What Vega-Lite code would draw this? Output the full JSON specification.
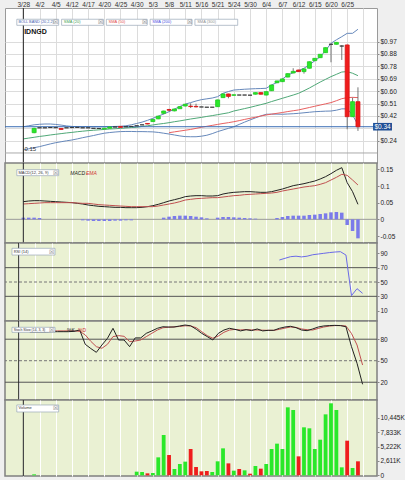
{
"$schema":"https://vega.github.io/schema/vega-lite/v6.json",
"background":"#efefef",
"padding":{"left":3,"top":0,"right":0,"bottom":0},
"spacing":0,
"bounds":"flush",
"config":{"axis":{"labelFont":"Liberation Sans","labelFontSize":6.5,"labelColor":"#222"},"text":{"font":"Liberation Sans"}},
"data":{"name":"d"},
"datasets":{"d":[
{"i":0,"ub":0.338,"lb":0.166,"m":0.248,"macd":0.053,"sig":0.046,"hist":0.005},
{"i":1,"ub":0.345,"lb":0.175,"m":0.254,"macd":0.055,"sig":0.047,"hist":0.005},
{"i":2,"o":0.294,"h":0.33,"l":0.29,"c":0.326,"dir":"up","ub":0.352,"lb":0.183,"m":0.26,"macd":0.056,"sig":0.048,"hist":0.005,"k":90,"dd":91.6,"vol":181,"vd":"up"},
{"i":3,"o":0.33,"h":0.33,"l":0.33,"c":0.33,"dir":"flat","ub":0.356,"lb":0.191,"m":0.266,"macd":0.056,"sig":0.049,"hist":0.004,"k":90,"dd":91.6},
{"i":4,"o":0.33,"h":0.33,"l":0.33,"c":0.33,"dir":"flat","ub":0.358,"lb":0.201,"m":0.271,"macd":0.055,"sig":0.05,"k":90,"dd":91.6},
{"i":5,"o":0.332,"h":0.332,"l":0.332,"c":0.332,"dir":"flat","ub":0.358,"lb":0.211,"m":0.277,"macd":0.054,"sig":0.05,"k":90,"dd":91.6},
{"i":6,"o":0.331,"h":0.331,"l":0.331,"c":0.331,"dir":"flat","ub":0.355,"lb":0.22,"m":0.282,"macd":0.053,"sig":0.05,"k":90.5,"dd":91.6},
{"i":7,"o":0.325,"h":0.327,"l":0.316,"c":0.318,"dir":"down","ub":0.35,"lb":0.227,"m":0.287,"macd":0.052,"sig":0.05,"k":90.5,"dd":91.6},
{"i":8,"o":0.33,"h":0.33,"l":0.33,"c":0.33,"dir":"flat","ub":0.344,"lb":0.234,"m":0.292,"macd":0.051,"sig":0.05,"k":90.5,"dd":91.6},
{"i":9,"o":0.332,"h":0.338,"l":0.327,"c":0.332,"dir":"flat","ub":0.34,"lb":0.24,"m":0.296,"macd":0.05,"sig":0.05,"k":90.5,"dd":91.6},
{"i":10,"o":0.333,"h":0.333,"l":0.333,"c":0.333,"dir":"flat","ub":0.338,"lb":0.248,"m":0.301,"macd":0.048,"sig":0.049,"k":91,"dd":91.6},
{"i":11,"o":0.33,"h":0.33,"l":0.33,"c":0.33,"dir":"flat","ub":0.338,"lb":0.257,"m":0.305,"macd":0.046,"sig":0.048,"hist":-0.003,"k":92.8,"dd":91},
{"i":12,"o":0.33,"h":0.33,"l":0.33,"c":0.33,"dir":"flat","ub":0.338,"lb":0.265,"m":0.309,"macd":0.043,"sig":0.048,"hist":-0.004,"k":72.9,"dd":86},
{"i":13,"o":0.326,"h":0.326,"l":0.326,"c":0.326,"dir":"flat","ub":0.338,"lb":0.273,"m":0.312,"macd":0.041,"sig":0.046,"hist":-0.005,"k":67,"dd":77},
{"i":14,"o":0.325,"h":0.325,"l":0.325,"c":0.325,"dir":"flat","ub":0.338,"lb":0.282,"m":0.315,"macd":0.039,"sig":0.044,"hist":-0.005,"k":61.7,"dd":69.6},
{"i":15,"o":0.321,"h":0.328,"l":0.32,"c":0.327,"dir":"up","ub":0.338,"lb":0.29,"m":0.318,"macd":0.038,"sig":0.043,"hist":-0.005,"k":71.9,"dd":67.3},
{"i":16,"o":0.327,"h":0.337,"l":0.326,"c":0.336,"dir":"up","ub":0.339,"lb":0.295,"m":0.321,"macd":0.037,"sig":0.042,"hist":-0.005,"k":81.2,"dd":72.9},
{"i":17,"o":0.336,"h":0.336,"l":0.336,"c":0.336,"dir":"flat","ub":0.34,"lb":0.299,"m":0.323,"macd":0.036,"sig":0.041,"hist":-0.004,"k":95.2,"dd":83.6},
{"i":18,"o":0.34,"h":0.341,"l":0.332,"c":0.333,"dir":"down","ub":0.341,"lb":0.302,"m":0.326,"macd":0.036,"sig":0.04,"hist":-0.004,"k":78.9,"dd":85},
{"i":19,"o":0.338,"h":0.338,"l":0.338,"c":0.338,"dir":"flat","ub":0.345,"lb":0.303,"m":0.329,"macd":0.035,"sig":0.039,"hist":-0.003,"k":78.9,"dd":84},
{"i":20,"o":0.34,"h":0.34,"l":0.34,"c":0.34,"dir":"flat","ub":0.352,"lb":0.303,"m":0.332,"macd":0.035,"sig":0.038,"hist":-0.003,"k":69.6,"dd":76.7},
{"i":21,"o":0.345,"h":0.345,"l":0.345,"c":0.345,"dir":"flat","ub":0.362,"lb":0.302,"m":0.334,"macd":0.035,"sig":0.038,"k":81.8,"dd":77.5,"vol":664,"vd":"up"},
{"i":22,"o":0.352,"h":0.352,"l":0.352,"c":0.352,"dir":"flat","ub":0.372,"lb":0.302,"m":0.34,"macd":0.036,"sig":0.038,"k":81.8,"dd":78.9,"vol":600,"vd":"up"},
{"i":23,"o":0.362,"h":0.363,"l":0.356,"c":0.358,"dir":"down","ub":0.385,"lb":0.301,"m":0.345,"macd":0.038,"sig":0.038,"k":88.2,"dd":83.6,"vol":360,"vd":"down"},
{"i":24,"o":0.376,"h":0.394,"l":0.374,"c":0.392,"dir":"up","ub":0.4,"lb":0.3,"m":0.351,"macd":0.041,"sig":0.038,"k":91.6,"dd":88.2,"vol":420,"vd":"up"},
{"i":25,"o":0.396,"h":0.418,"l":0.394,"c":0.416,"dir":"up","ub":0.416,"lb":0.296,"m":0.357,"macd":0.045,"sig":0.04,"k":95.2,"dd":92.8,"vol":3260,"vd":"up"},
{"i":26,"o":0.437,"h":0.456,"l":0.43,"c":0.454,"dir":"up","ub":0.432,"lb":0.29,"m":0.362,"macd":0.05,"sig":0.043,"hist":0.005,"k":97.4,"dd":96,"vol":7310,"vd":"up"},
{"i":27,"o":0.465,"h":0.47,"l":0.452,"c":0.46,"dir":"down","ub":0.449,"lb":0.284,"m":0.368,"s50":0.294,"macd":0.055,"sig":0.046,"hist":0.008,"k":97,"dd":96.7,"vol":3680,"vd":"down"},
{"i":28,"o":0.455,"h":0.47,"l":0.452,"c":0.469,"dir":"up","ub":0.468,"lb":0.277,"m":0.375,"s50":0.3,"macd":0.059,"sig":0.049,"hist":0.01,"k":97,"dd":97.2,"vol":1150,"vd":"up"},
{"i":29,"o":0.471,"h":0.487,"l":0.469,"c":0.486,"dir":"up","ub":0.487,"lb":0.27,"m":0.381,"s50":0.306,"macd":0.063,"sig":0.053,"hist":0.011,"k":98.4,"dd":97.8,"vol":2050,"vd":"up"},
{"i":30,"o":0.491,"h":0.506,"l":0.489,"c":0.504,"dir":"up","ub":0.505,"lb":0.265,"m":0.388,"s50":0.312,"macd":0.068,"sig":0.058,"hist":0.011,"k":99.8,"dd":98.7,"vol":2480,"vd":"up"},
{"i":31,"o":0.49,"h":0.511,"l":0.476,"c":0.487,"dir":"down","ub":0.516,"lb":0.264,"m":0.395,"s50":0.318,"macd":0.07,"sig":0.06,"hist":0.01,"k":98.7,"dd":98.5,"vol":4770,"vd":"down"},
{"i":32,"o":0.488,"h":0.508,"l":0.48,"c":0.485,"dir":"down","ub":0.528,"lb":0.264,"m":0.401,"s50":0.326,"macd":0.071,"sig":0.062,"hist":0.008,"k":94,"dd":96.1,"vol":1510,"vd":"down"},
{"i":33,"o":0.484,"h":0.484,"l":0.484,"c":0.484,"dir":"flat","ub":0.538,"lb":0.268,"m":0.407,"s50":0.334,"macd":0.071,"sig":0.063,"hist":0.006,"k":88.2,"dd":90.5,"vol":725,"vd":"down"},
{"i":34,"o":0.482,"h":0.482,"l":0.482,"c":0.482,"dir":"flat","ub":0.544,"lb":0.275,"m":0.414,"s50":0.341,"macd":0.07,"sig":0.064,"hist":0.003,"k":83.6,"dd":85,"vol":785,"vd":"down"},
{"i":35,"o":0.482,"h":0.482,"l":0.482,"c":0.482,"dir":"flat","ub":0.55,"lb":0.287,"m":0.42,"s50":0.348,"macd":0.07,"sig":0.065,"k":78.9,"dd":81.3,"vol":600,"vd":"up"},
{"i":36,"o":0.486,"h":0.538,"l":0.484,"c":0.536,"dir":"up","ub":0.56,"lb":0.302,"m":0.427,"s50":0.355,"macd":0.071,"sig":0.065,"hist":0.005,"k":88.2,"dd":84.5,"vol":2540,"vd":"up"},
{"i":37,"o":0.553,"h":0.582,"l":0.55,"c":0.58,"dir":"up","ub":0.585,"lb":0.314,"m":0.434,"s50":0.362,"macd":0.076,"sig":0.067,"hist":0.007,"k":92.8,"dd":89.6,"vol":4890,"vd":"up"},
{"i":38,"o":0.58,"h":0.582,"l":0.548,"c":0.562,"dir":"down","ub":0.598,"lb":0.326,"m":0.441,"s50":0.368,"macd":0.079,"sig":0.069,"hist":0.007,"k":95.2,"dd":92.8,"vol":2170,"vd":"down"},
{"i":39,"o":0.57,"h":0.576,"l":0.568,"c":0.574,"dir":"up","ub":0.609,"lb":0.338,"m":0.454,"s50":0.375,"macd":0.081,"sig":0.071,"hist":0.006,"k":93.7,"dd":93.7,"vol":845,"vd":"up"},
{"i":40,"o":0.572,"h":0.572,"l":0.572,"c":0.572,"dir":"flat","ub":0.612,"lb":0.355,"m":0.463,"s50":0.383,"macd":0.082,"sig":0.072,"hist":0.005,"k":91.6,"dd":93,"vol":1150,"vd":"down"},
{"i":41,"o":0.572,"h":0.572,"l":0.572,"c":0.572,"dir":"flat","ub":0.615,"lb":0.372,"m":0.472,"s50":0.392,"macd":0.083,"sig":0.074,"hist":0.004,"k":93.3,"dd":93.3,"vol":906,"vd":"up"},
{"i":42,"o":0.571,"h":0.571,"l":0.571,"c":0.571,"dir":"flat","ub":0.617,"lb":0.388,"m":0.481,"s50":0.4,"macd":0.083,"sig":0.075,"hist":0.003,"k":92,"dd":93,"vol":300,"vd":"down"},
{"i":43,"o":0.578,"h":0.591,"l":0.576,"c":0.59,"dir":"up","ub":0.619,"lb":0.403,"m":0.491,"s50":0.408,"macd":0.082,"sig":0.076,"hist":0.002,"k":94.3,"dd":92.8,"vol":1690,"vd":"up"},
{"i":44,"o":0.59,"h":0.592,"l":0.576,"c":0.578,"dir":"down","ub":0.62,"lb":0.418,"m":0.501,"s50":0.417,"macd":0.081,"sig":0.077,"k":91.6,"dd":92.6,"vol":1210,"vd":"down"},
{"i":45,"o":0.572,"h":0.599,"l":0.57,"c":0.597,"dir":"up","ub":0.622,"lb":0.43,"m":0.511,"s50":0.425,"macd":0.081,"sig":0.078,"k":92.4,"dd":92.4,"vol":2050,"vd":"up"},
{"i":46,"o":0.604,"h":0.648,"l":0.602,"c":0.646,"dir":"up","ub":0.646,"lb":0.431,"m":0.524,"s50":0.431,"macd":0.083,"sig":0.079,"k":92.4,"dd":92.4,"vol":4770,"vd":"up"},
{"i":47,"o":0.663,"h":0.678,"l":0.66,"c":0.676,"dir":"up","ub":0.665,"lb":0.431,"m":0.536,"s50":0.437,"macd":0.087,"sig":0.081,"hist":0.004,"rsi":80.7,"k":95.2,"dd":93.7,"vol":5740,"vd":"up"},
{"i":48,"o":0.671,"h":0.693,"l":0.669,"c":0.691,"dir":"up","ub":0.69,"lb":0.43,"m":0.548,"s50":0.443,"macd":0.091,"sig":0.085,"hist":0.007,"rsi":83,"k":97,"dd":95.5,"vol":4770,"vd":"up"},
{"i":49,"o":0.705,"h":0.732,"l":0.703,"c":0.73,"dir":"up","ub":0.72,"lb":0.432,"m":0.56,"s50":0.45,"macd":0.096,"sig":0.088,"hist":0.01,"rsi":85.3,"k":98,"dd":97,"vol":12320,"vd":"up"},
{"i":50,"o":0.735,"h":0.77,"l":0.733,"c":0.747,"dir":"up","ub":0.737,"lb":0.434,"m":0.572,"s50":0.456,"macd":0.101,"sig":0.091,"hist":0.011,"rsi":86,"k":96.1,"dd":96.5,"vol":11840,"vd":"up"},
{"i":51,"o":0.757,"h":0.759,"l":0.743,"c":0.745,"dir":"down","ub":0.752,"lb":0.437,"m":0.585,"s50":0.462,"macd":0.104,"sig":0.094,"hist":0.011,"rsi":85,"k":92.8,"dd":94.3,"vol":3440,"vd":"down"},
{"i":52,"o":0.745,"h":0.767,"l":0.73,"c":0.765,"dir":"up","ub":0.77,"lb":0.441,"m":0.604,"s50":0.471,"macd":0.107,"sig":0.097,"hist":0.011,"rsi":86,"k":91.9,"dd":93.3,"vol":8700,"vd":"up"},
{"i":53,"o":0.77,"h":0.82,"l":0.768,"c":0.818,"dir":"up","ub":0.795,"lb":0.445,"m":0.624,"s50":0.48,"macd":0.111,"sig":0.099,"hist":0.013,"rsi":88,"k":94.3,"dd":92.8,"vol":8520,"vd":"up"},
{"i":54,"o":0.826,"h":0.845,"l":0.824,"c":0.843,"dir":"up","ub":0.825,"lb":0.449,"m":0.646,"s50":0.489,"macd":0.115,"sig":0.101,"hist":0.014,"rsi":89,"k":97,"dd":95,"vol":4770,"vd":"up"},
{"i":55,"o":0.848,"h":0.875,"l":0.846,"c":0.873,"dir":"up","ub":0.855,"lb":0.451,"m":0.668,"s50":0.498,"macd":0.121,"sig":0.105,"hist":0.016,"rsi":90,"k":98.5,"dd":97,"vol":6460,"vd":"up"},
{"i":56,"o":0.885,"h":0.924,"l":0.883,"c":0.922,"dir":"up","ub":0.9,"lb":0.453,"m":0.688,"s50":0.507,"macd":0.128,"sig":0.11,"hist":0.018,"rsi":91,"k":99,"dd":98.3,"vol":11050,"vd":"up"},
{"i":57,"o":0.947,"h":0.95,"l":0.814,"c":0.947,"dir":"flat","ub":0.954,"lb":0.454,"m":0.708,"s50":0.516,"macd":0.137,"sig":0.118,"hist":0.021,"rsi":91.8,"k":99.3,"dd":99,"vol":13050,"vd":"up"},
{"i":58,"o":0.947,"h":0.963,"l":0.945,"c":0.961,"dir":"up","ub":0.98,"lb":0.46,"m":0.725,"s50":0.53,"macd":0.147,"sig":0.126,"hist":0.022,"rsi":92.3,"k":99,"dd":99,"vol":11840,"vd":"up"},
{"i":59,"o":0.934,"h":0.94,"l":0.831,"c":0.934,"dir":"flat","ub":1.003,"lb":0.47,"m":0.742,"s50":0.545,"macd":0.155,"sig":0.135,"hist":0.02,"rsi":87.6,"k":97.4,"dd":98.5,"vol":1450,"vd":"up"},
{"i":60,"o":0.942,"h":0.945,"l":0.319,"c":0.412,"dir":"down","ub":1.028,"lb":0.47,"m":0.745,"s50":0.553,"macd":0.11,"sig":0.132,"hist":-0.017,"rsi":31,"k":69.6,"dd":88,"vol":6280,"vd":"down"},
{"i":61,"o":0.412,"h":0.553,"l":0.41,"c":0.523,"dir":"up","ub":1.028,"lb":0.425,"m":0.733,"s50":0.555,"macd":0.083,"sig":0.118,"hist":-0.035,"rsi":40.7,"k":46.4,"dd":71.9,"vol":1330,"vd":"up"},
{"i":62,"o":0.523,"h":0.629,"l":0.307,"c":0.338,"dir":"down","ub":1.058,"lb":0.351,"m":0.715,"s50":0.553,"macd":0.045,"sig":0.103,"hist":-0.057,"rsi":34.2,"k":17.1,"dd":44,"vol":2540,"vd":"down"}
]},
"vconcat":[
{
"width":372,"height":155,
"view":{"fill":"#ffffff","stroke":"#9a9a9a","strokeWidth":1},
"layer":[
{"mark":{"type":"line","color":"#6688bb","strokeWidth":1},"encoding":{
 "x":{"field":"i","type":"quantitative","title":null,"scale":{"domain":[-2.47,64.6],"nice":false,"zero":false},"axis":{"orient":"top","values":[0,3,6,9,12,15,18,21,24,27,30,33,36,39,42,45,48,51,54,57,60,63],"tickCount":100,"labelExpr":"['3/28','4/2','4/5','4/12','4/17','4/20','4/25','4/30','5/3','5/8','5/11','5/16','5/21','5/24','5/30','6/4','6/7','6/12','6/15','6/20','6/25',''][round(datum.value/3)]","ticks":false,"domain":false,"grid":true,"gridColor":"#dcdcdc","labelFontSize":6.5,"labelColor":"#333","labelPadding":1,"labelFlush":false,"labelOverlap":false}},
 "y":{"field":"ub","type":"quantitative","title":null,"scale":{"domain":[0.07,1.215],"nice":false,"zero":false},"axis":{"orient":"right","values":[0.2355,0.327,0.418,0.509,0.601,0.692,0.784,0.876,0.967],"tickCount":100,"labelOverlap":false,"labelExpr":"datum.value > 0.3 && datum.value < 0.35 ? '' : format(datum.value, '$.2f')","grid":true,"gridColor":"#dcdcdc","domain":false,"tickSize":2,"tickColor":"#888","labelPadding":1}}}},
{"mark":{"type":"line","color":"#6688bb","strokeWidth":1},"encoding":{"x":{"field":"i","type":"quantitative","title":null},"y":{"field":"lb","type":"quantitative","title":null}}},
{"mark":{"type":"line","color":"#4fa877","strokeWidth":1},"encoding":{"x":{"field":"i","type":"quantitative","title":null},"y":{"field":"m","type":"quantitative","title":null}}},
{"mark":{"type":"line","color":"#e86060","strokeWidth":1},"encoding":{"x":{"field":"i","type":"quantitative","title":null},"y":{"field":"s50","type":"quantitative","title":null}}},
{"data":{"values":[{}]},"mark":{"type":"rule","color":"#3a6db5","strokeWidth":1},"encoding":{"y":{"datum":0.338,"title":null}}},
{"data":{"values":[{}]},"mark":{"type":"rule","color":"#aaaaaa","strokeWidth":1},"encoding":{"y":{"datum":0.144,"title":null}}},
{"transform":[{"filter":"isValid(datum.h)"}],"mark":{"type":"rule","color":"#555555","strokeWidth":0.8},"encoding":{"x":{"field":"i","type":"quantitative","title":null},"y":{"field":"l","type":"quantitative","title":null},"y2":{"field":"h"}}},
{"transform":[{"filter":"isValid(datum.o)"}],"mark":{"type":"bar","size":4,"strokeWidth":0.8,"orient":"vertical"},"encoding":{"x":{"field":"i","type":"quantitative","title":null},"y":{"field":"o","type":"quantitative","title":null},"y2":{"field":"c"},
 "color":{"field":"dir","type":"nominal","scale":{"domain":["up","down","flat"],"range":["#2ae82a","#ef1c1c","#333333"]},"legend":null},
 "stroke":{"field":"dir","type":"nominal","scale":{"domain":["up","down","flat"],"range":["#20cc20","#d81414","#333333"]},"legend":null}}},
{"data":{"values":[{}]},"mark":{"type":"rule","color":"#222222","strokeWidth":1},"encoding":{"x":{"datum":0,"title":null}}},
{"data":{"values":[{}]},"mark":{"type":"text","align":"left","baseline":"middle","fontSize":7,"fontWeight":"bold","color":"#111"},"encoding":{"x":{"datum":0.15,"title":null},"y":{"datum":1.04,"title":null},"text":{"value":"IDNGD"}}},
{"data":{"values":[{}]},"mark":{"type":"text","align":"left","baseline":"middle","fontSize":6,"color":"#333"},"encoding":{"x":{"datum":0.2,"title":null},"y":{"datum":0.171,"title":null},"text":{"value":"0.15"}}},
{"data":{"values":[{}]},"mark":{"type":"rect","fill":"#ffffff","stroke":"#9aa7b8","strokeWidth":0.7},"encoding":{"x":{"datum":-1.21,"title":null},"x2":{"datum":6.55},"y":{"datum":1.132,"title":null},"y2":{"datum":1.087}}},
{"data":{"values":[{}]},"mark":{"type":"rect","fill":"#ffffff","stroke":"#9aa7b8","strokeWidth":0.7},"encoding":{"x":{"datum":7.09,"title":null},"x2":{"datum":14.84},"y":{"datum":1.132,"title":null},"y2":{"datum":1.087}}},
{"data":{"values":[{}]},"mark":{"type":"rect","fill":"#ffffff","stroke":"#9aa7b8","strokeWidth":0.7},"encoding":{"x":{"datum":15.38,"title":null},"x2":{"datum":22.95},"y":{"datum":1.132,"title":null},"y2":{"datum":1.087}}},
{"data":{"values":[{}]},"mark":{"type":"rect","fill":"#ffffff","stroke":"#9aa7b8","strokeWidth":0.7},"encoding":{"x":{"datum":23.49,"title":null},"x2":{"datum":31.25},"y":{"datum":1.132,"title":null},"y2":{"datum":1.087}}},
{"data":{"values":[{}]},"mark":{"type":"rect","fill":"#ffffff","stroke":"#9aa7b8","strokeWidth":0.7},"encoding":{"x":{"datum":31.79,"title":null},"x2":{"datum":39.72},"y":{"datum":1.132,"title":null},"y2":{"datum":1.087}}},
{"data":{"values":[{}]},"mark":{"type":"text","align":"left","baseline":"middle","fontSize":3.8,"color":"#4060b0"},"encoding":{"x":{"datum":-0.9,"title":null},"y":{"datum":1.11,"title":null},"text":{"value":"BOLL BAND (20,2,2)"}}},
{"data":{"values":[{}]},"mark":{"type":"text","align":"left","baseline":"middle","fontSize":4,"color":"#40a050"},"encoding":{"x":{"datum":7.5,"title":null},"y":{"datum":1.11,"title":null},"text":{"value":"SMA (20)"}}},
{"data":{"values":[{}]},"mark":{"type":"text","align":"left","baseline":"middle","fontSize":4,"color":"#e04848"},"encoding":{"x":{"datum":15.8,"title":null},"y":{"datum":1.11,"title":null},"text":{"value":"SMA (50)"}}},
{"data":{"values":[{}]},"mark":{"type":"text","align":"left","baseline":"middle","fontSize":4,"color":"#4848e0"},"encoding":{"x":{"datum":23.9,"title":null},"y":{"datum":1.11,"title":null},"text":{"value":"SMA (200)"}}},
{"data":{"values":[{}]},"mark":{"type":"text","align":"left","baseline":"middle","fontSize":4,"color":"#909090"},"encoding":{"x":{"datum":32.2,"title":null},"y":{"datum":1.11,"title":null},"text":{"value":"SMA (300)"}}},
{"data":{"values":[{}]},"mark":{"type":"text","align":"center","baseline":"middle","fontSize":5.5,"color":"#777"},"encoding":{"x":{"datum":6.0,"title":null},"y":{"datum":1.11,"title":null},"text":{"value":"☒"}}},
{"data":{"values":[{}]},"mark":{"type":"text","align":"center","baseline":"middle","fontSize":5.5,"color":"#777"},"encoding":{"x":{"datum":14.3,"title":null},"y":{"datum":1.11,"title":null},"text":{"value":"☒"}}},
{"data":{"values":[{}]},"mark":{"type":"text","align":"center","baseline":"middle","fontSize":5.5,"color":"#777"},"encoding":{"x":{"datum":22.4,"title":null},"y":{"datum":1.11,"title":null},"text":{"value":"☒"}}},
{"data":{"values":[{}]},"mark":{"type":"text","align":"center","baseline":"middle","fontSize":5.5,"color":"#777"},"encoding":{"x":{"datum":30.7,"title":null},"y":{"datum":1.11,"title":null},"text":{"value":"☒"}}},
{"data":{"values":[{}]},"mark":{"type":"rect","fill":"#1f4f96"},"encoding":{"x":{"datum":64.8,"title":null},"x2":{"datum":68.3},"y":{"datum":0.366,"title":null},"y2":{"datum":0.31}}},
{"data":{"values":[{}]},"mark":{"type":"text","align":"center","baseline":"middle","fontSize":6.5,"color":"#ffffff"},"encoding":{"x":{"datum":66.55,"title":null},"y":{"datum":0.338,"title":null},"text":{"value":"$0.34"}}}
]},
{
"width":372,"height":80,
"view":{"fill":"#eaf1d3","stroke":"#808080","strokeWidth":1.5},
"layer":[
{"data":{"values":[{}]},"mark":{"type":"rule","color":"#9a9a9a","strokeWidth":1},"encoding":{"y":{"datum":0,"title":null}}},
{"transform":[{"filter":"isValid(datum.hist)"}],"mark":{"type":"bar","size":3.5,"color":"#7b7bea","orient":"vertical"},"encoding":{
 "x":{"field":"i","type":"quantitative","title":null,"scale":{"domain":[-2.47,64.6],"nice":false,"zero":false},"axis":{"orient":"top","values":[0,3,6,9,12,15,18,21,24,27,30,33,36,39,42,45,48,51,54,57,60,63],"tickCount":100,"labels":false,"ticks":false,"domain":false,"grid":true,"gridColor":"#ffffff"}},
 "y":{"field":"hist","type":"quantitative","title":null,"scale":{"domain":[-0.071,0.169],"nice":false,"zero":false},"axis":{"orient":"right","values":[-0.05,0,0.05,0.1,0.15],"tickCount":100,"labelOverlap":false,"labelExpr":"'' + datum.value","grid":false,"domain":false,"tickSize":2,"tickColor":"#888","labelPadding":1}}}},
{"mark":{"type":"line","color":"#222222","strokeWidth":1},"encoding":{"x":{"field":"i","type":"quantitative","title":null},"y":{"field":"macd","type":"quantitative","title":null}}},
{"mark":{"type":"line","color":"#c05050","strokeWidth":1},"encoding":{"x":{"field":"i","type":"quantitative","title":null},"y":{"field":"sig","type":"quantitative","title":null}}},
{"data":{"values":[{}]},"mark":{"type":"rule","color":"#222222","strokeWidth":1},"encoding":{"x":{"datum":0,"title":null}}},
{"data":{"values":[{}]},"mark":{"type":"rect","fill":"#ffffff","stroke":"#9aa7b8","strokeWidth":0.7},"encoding":{"x":{"datum":-1.21,"title":null},"x2":{"datum":6.55},"y":{"datum":0.149,"title":null},"y2":{"datum":0.131}}},
{"data":{"values":[{}]},"mark":{"type":"text","align":"left","baseline":"middle","fontSize":4,"color":"#333"},"encoding":{"x":{"datum":-0.9,"title":null},"y":{"datum":0.14,"title":null},"text":{"value":"MACD(12, 26, 9)"}}},
{"data":{"values":[{}]},"mark":{"type":"text","align":"center","baseline":"middle","fontSize":5.5,"color":"#777"},"encoding":{"x":{"datum":6.0,"title":null},"y":{"datum":0.14,"title":null},"text":{"value":"☒"}}},
{"data":{"values":[{}]},"mark":{"type":"text","align":"left","baseline":"middle","fontSize":5,"fontStyle":"italic","color":"#222"},"encoding":{"x":{"datum":8.7,"title":null},"y":{"datum":0.139,"title":null},"text":{"value":"MACD"}}},
{"data":{"values":[{}]},"mark":{"type":"text","align":"left","baseline":"middle","fontSize":5,"fontStyle":"italic","color":"#d03030"},"encoding":{"x":{"datum":11.6,"title":null},"y":{"datum":0.139,"title":null},"text":{"value":"EMA"}}}
]},
{
"width":372,"height":78,
"view":{"fill":"#eaf1d3","stroke":"#808080","strokeWidth":1.5},
"layer":[
{"data":{"values":[{}]},"mark":{"type":"rule","color":"#555555","strokeWidth":1},"encoding":{"y":{"datum":70,"title":null}}},
{"data":{"values":[{}]},"mark":{"type":"rule","color":"#555555","strokeWidth":1},"encoding":{"y":{"datum":30,"title":null}}},
{"data":{"values":[{}]},"mark":{"type":"rule","color":"#777777","strokeWidth":1,"strokeDash":[3,2]},"encoding":{"y":{"datum":50,"title":null}}},
{"mark":{"type":"line","color":"#6a6ae8","strokeWidth":1},"encoding":{
 "x":{"field":"i","type":"quantitative","title":null,"scale":{"domain":[-2.47,64.6],"nice":false,"zero":false},"axis":{"orient":"top","values":[0,3,6,9,12,15,18,21,24,27,30,33,36,39,42,45,48,51,54,57,60,63],"tickCount":100,"labels":false,"ticks":false,"domain":false,"grid":true,"gridColor":"#ffffff"}},
 "y":{"field":"rsi","type":"quantitative","title":null,"scale":{"domain":[-4.4,104.4],"nice":false,"zero":false},"axis":{"orient":"right","values":[10,30,50,70,90],"tickCount":100,"labelOverlap":false,"grid":false,"domain":false,"tickSize":2,"tickColor":"#888","labelPadding":1}}}},
{"data":{"values":[{}]},"mark":{"type":"rule","color":"#222222","strokeWidth":1},"encoding":{"x":{"datum":0,"title":null}}},
{"data":{"values":[{}]},"mark":{"type":"rect","fill":"#ffffff","stroke":"#9aa7b8","strokeWidth":0.7},"encoding":{"x":{"datum":-1.21,"title":null},"x2":{"datum":6.55},"y":{"datum":97,"title":null},"y2":{"datum":87.6}}},
{"data":{"values":[{}]},"mark":{"type":"text","align":"left","baseline":"middle","fontSize":4,"color":"#333"},"encoding":{"x":{"datum":-0.9,"title":null},"y":{"datum":92.3,"title":null},"text":{"value":"RSI (14)"}}},
{"data":{"values":[{}]},"mark":{"type":"text","align":"center","baseline":"middle","fontSize":5.5,"color":"#777"},"encoding":{"x":{"datum":6.0,"title":null},"y":{"datum":92.3,"title":null},"text":{"value":"☒"}}}
]},
{
"width":372,"height":79,
"view":{"fill":"#eaf1d3","stroke":"#808080","strokeWidth":1.5},
"layer":[
{"data":{"values":[{}]},"mark":{"type":"rule","color":"#555555","strokeWidth":1},"encoding":{"y":{"datum":80,"title":null}}},
{"data":{"values":[{}]},"mark":{"type":"rule","color":"#555555","strokeWidth":1},"encoding":{"y":{"datum":20,"title":null}}},
{"data":{"values":[{}]},"mark":{"type":"rule","color":"#777777","strokeWidth":1,"strokeDash":[3,2]},"encoding":{"y":{"datum":50,"title":null}}},
{"mark":{"type":"line","color":"#c05050","strokeWidth":1},"encoding":{
 "x":{"field":"i","type":"quantitative","title":null,"scale":{"domain":[-2.47,64.6],"nice":false,"zero":false},"axis":{"orient":"top","values":[0,3,6,9,12,15,18,21,24,27,30,33,36,39,42,45,48,51,54,57,60,63],"tickCount":100,"labels":false,"ticks":false,"domain":false,"grid":true,"gridColor":"#ffffff"}},
 "y":{"field":"dd","type":"quantitative","title":null,"scale":{"domain":[-4.8,105.4],"nice":false,"zero":false},"axis":{"orient":"right","values":[20,50,80],"tickCount":100,"labelOverlap":false,"grid":false,"domain":false,"tickSize":2,"tickColor":"#888","labelPadding":1}}}},
{"mark":{"type":"line","color":"#222222","strokeWidth":1},"encoding":{"x":{"field":"i","type":"quantitative","title":null},"y":{"field":"k","type":"quantitative","title":null}}},
{"data":{"values":[{}]},"mark":{"type":"rule","color":"#222222","strokeWidth":1},"encoding":{"x":{"datum":0,"title":null}}},
{"data":{"values":[{}]},"mark":{"type":"rect","fill":"#ffffff","stroke":"#9aa7b8","strokeWidth":0.7},"encoding":{"x":{"datum":-1.21,"title":null},"x2":{"datum":6.55},"y":{"datum":96.6,"title":null},"y2":{"datum":89.6}}},
{"data":{"values":[{}]},"mark":{"type":"text","align":"left","baseline":"middle","fontSize":3.4,"color":"#333"},"encoding":{"x":{"datum":-0.9,"title":null},"y":{"datum":93.1,"title":null},"text":{"value":"Stoch Slow (14, 3, 3)"}}},
{"data":{"values":[{}]},"mark":{"type":"text","align":"center","baseline":"middle","fontSize":5.5,"color":"#777"},"encoding":{"x":{"datum":6.0,"title":null},"y":{"datum":93.1,"title":null},"text":{"value":"☒"}}},
{"data":{"values":[{}]},"mark":{"type":"text","align":"left","baseline":"middle","fontSize":5,"color":"#222"},"encoding":{"x":{"datum":8.7,"title":null},"y":{"datum":93.1,"title":null},"text":{"value":"%K"}}},
{"data":{"values":[{}]},"mark":{"type":"text","align":"left","baseline":"middle","fontSize":5,"color":"#d03030"},"encoding":{"x":{"datum":10.7,"title":null},"y":{"datum":93.1,"title":null},"text":{"value":"%D"}}}
]},
{
"width":372,"height":76,
"view":{"fill":"#eaf1d3","stroke":"#808080","strokeWidth":1.5},
"layer":[
{"transform":[{"filter":"isValid(datum.vol)"}],"mark":{"type":"bar","size":3.8,"orient":"vertical"},"encoding":{
 "x":{"field":"i","type":"quantitative","title":null,"scale":{"domain":[-2.47,64.6],"nice":false,"zero":false},"axis":{"orient":"top","values":[0,3,6,9,12,15,18,21,24,27,30,33,36,39,42,45,48,51,54,57,60,63],"tickCount":100,"labels":false,"ticks":false,"domain":false,"grid":true,"gridColor":"#ffffff"}},
 "y":{"field":"vol","type":"quantitative","title":null,"scale":{"domain":[-120,13650],"nice":false,"zero":false},"axis":{"orient":"right","values":[0,2611,5222,7833,10445],"tickCount":100,"labelOverlap":false,"labelExpr":"datum.value == 0 ? '0' : format(datum.value, ',') + 'K'","grid":false,"domain":false,"tickSize":2,"tickColor":"#888","labelPadding":1}},
 "color":{"field":"vd","type":"nominal","scale":{"domain":["up","down"],"range":["#22ee22","#ee1818"]},"legend":null}}},
{"data":{"values":[{}]},"mark":{"type":"rule","color":"#222222","strokeWidth":1},"encoding":{"x":{"datum":0,"title":null}}},
{"data":{"values":[{}]},"mark":{"type":"rect","fill":"#ffffff","stroke":"#9aa7b8","strokeWidth":0.7},"encoding":{"x":{"datum":-1.21,"title":null},"x2":{"datum":6.55},"y":{"datum":12747,"title":null},"y2":{"datum":11478}}},
{"data":{"values":[{}]},"mark":{"type":"text","align":"left","baseline":"middle","fontSize":4,"color":"#333"},"encoding":{"x":{"datum":-0.9,"title":null},"y":{"datum":12110,"title":null},"text":{"value":"Volume"}}},
{"data":{"values":[{}]},"mark":{"type":"text","align":"center","baseline":"middle","fontSize":5.5,"color":"#777"},"encoding":{"x":{"datum":6.0,"title":null},"y":{"datum":12110,"title":null},"text":{"value":"☒"}}}
]}
]
}
